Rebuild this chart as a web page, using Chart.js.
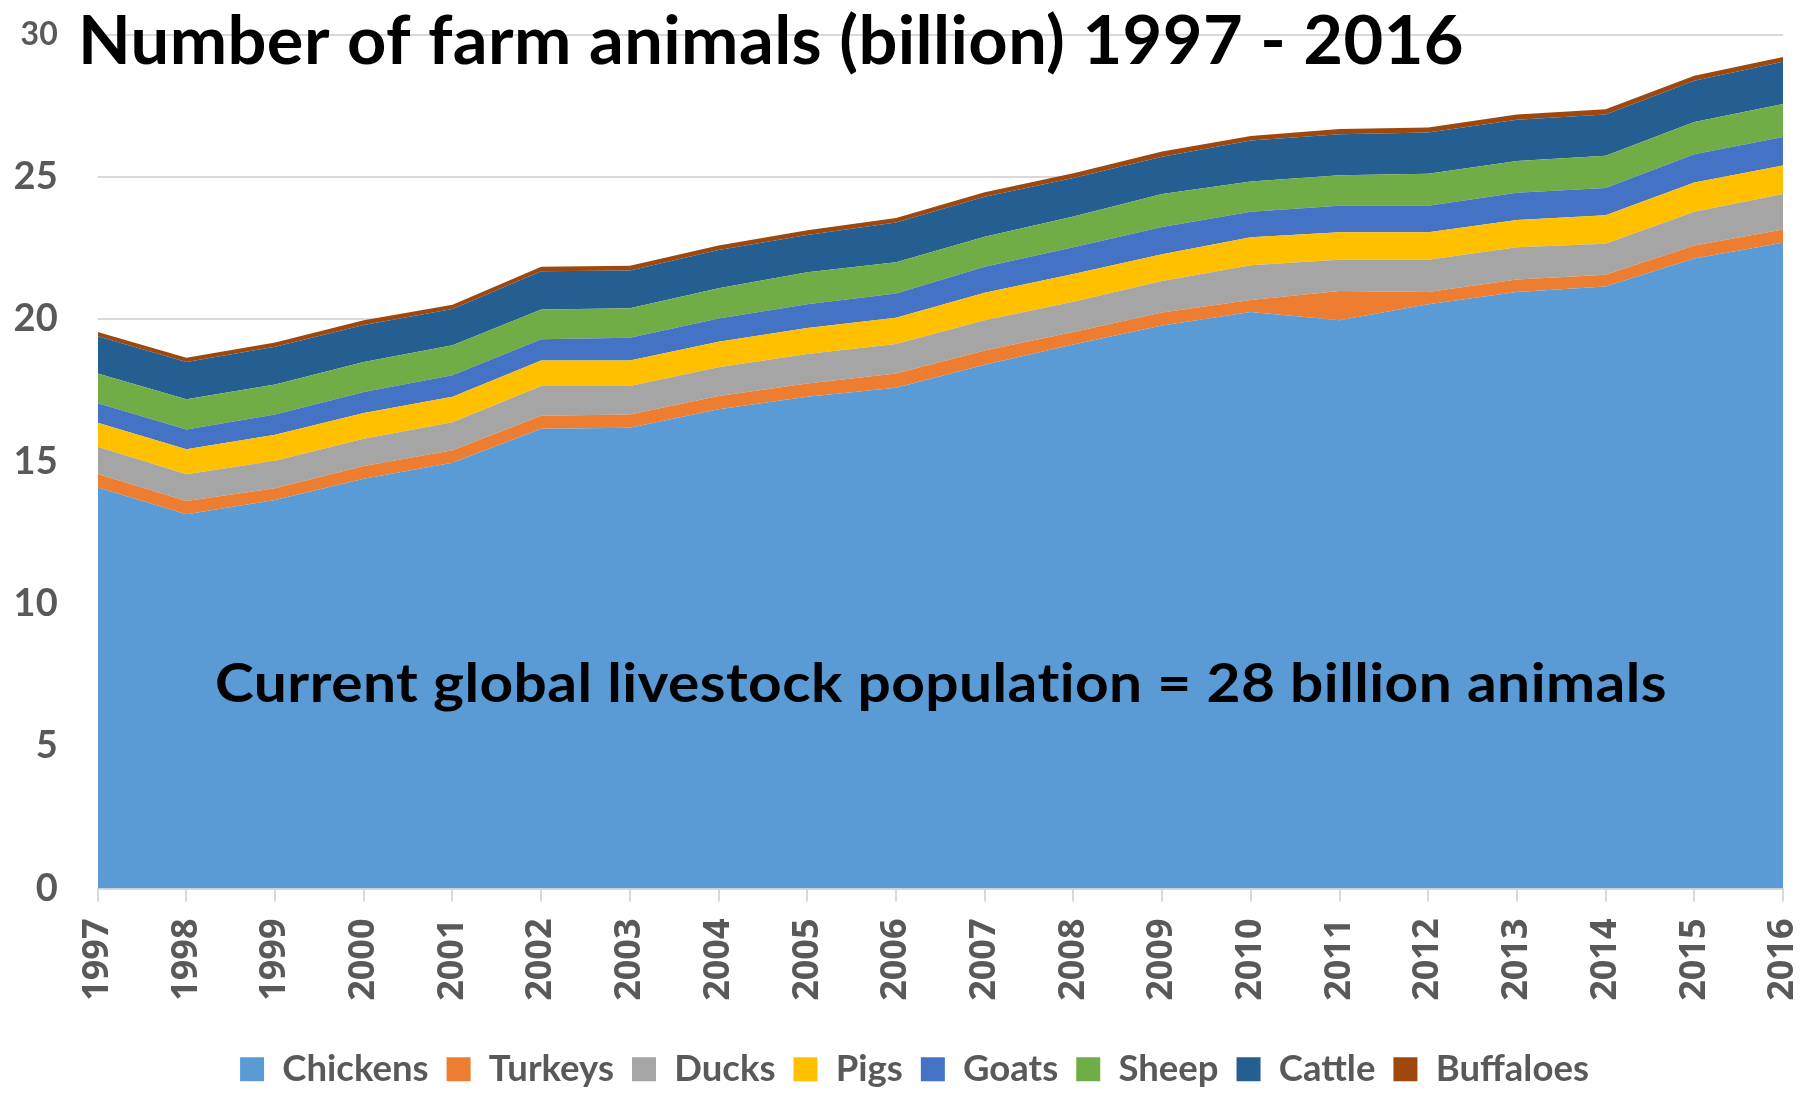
<!DOCTYPE html>
<html>
<head>
<meta charset="utf-8">
<script src="https://cdn.jsdelivr.net/npm/chart.js@4.4.0/dist/chart.umd.min.js"></script>
<style>
  html, body { margin: 0; padding: 0; background: #fff; }
  #wrap { width: 1800px; height: 1099px; }
</style>
</head>
<body>
<div id="wrap"><canvas id="chart" width="1800" height="1099"></canvas></div>
<script>
// billions of animals
const years = ["1997", "1998", "1999", "2000", "2001", "2002", "2003", "2004", "2005", "2006",
               "2007", "2008", "2009", "2010", "2011", "2012", "2013", "2014", "2015", "2016"];
const chickens  = [14.09, 13.15, 13.65, 14.40, 14.96, 16.15, 16.19, 16.84, 17.28, 17.59,
                   18.40, 19.11, 19.78, 20.25, 19.96, 20.53, 20.96, 21.15, 22.13, 22.69];
const turkeys   = [0.47, 0.46, 0.41, 0.44, 0.44, 0.46, 0.46, 0.46, 0.46, 0.50,
                   0.50, 0.44, 0.46, 0.43, 1.03, 0.43, 0.44, 0.41, 0.46, 0.46];
const ducks     = [0.96, 0.94, 0.97, 0.96, 0.98, 1.04, 1.00, 1.01, 1.04, 1.04,
                   1.06, 1.06, 1.10, 1.22, 1.10, 1.13, 1.13, 1.09, 1.19, 1.25];
const pigs      = [0.84, 0.88, 0.91, 0.91, 0.90, 0.90, 0.90, 0.90, 0.91, 0.92,
                   0.97, 0.98, 0.94, 0.98, 0.97, 0.97, 0.96, 1.00, 1.02, 1.00];
const goats     = [0.69, 0.70, 0.71, 0.73, 0.75, 0.75, 0.80, 0.82, 0.84, 0.85,
                   0.91, 0.94, 0.96, 0.90, 0.93, 0.93, 0.95, 0.96, 1.00, 1.00];
const sheep     = [1.04, 1.06, 1.06, 1.06, 1.06, 1.04, 1.04, 1.06, 1.12, 1.10,
                   1.06, 1.08, 1.16, 1.06, 1.07, 1.12, 1.12, 1.13, 1.13, 1.16];
const cattle    = [1.31, 1.31, 1.32, 1.30, 1.27, 1.35, 1.32, 1.34, 1.31, 1.40,
                   1.40, 1.35, 1.31, 1.44, 1.44, 1.45, 1.45, 1.45, 1.45, 1.49];
const buffaloes = [0.15, 0.15, 0.15, 0.16, 0.15, 0.15, 0.17, 0.16, 0.17, 0.16,
                   0.16, 0.17, 0.18, 0.16, 0.18, 0.18, 0.18, 0.19, 0.17, 0.16];

const seriesNames  = ["Chickens", "Turkeys", "Ducks", "Pigs", "Goats", "Sheep", "Cattle", "Buffaloes"];
const seriesValues = [chickens, turkeys, ducks, pigs, goats, sheep, cattle, buffaloes];
const seriesColors = ["#5B9BD5", "#ED7D31", "#A5A5A5", "#FFC000", "#4472C4", "#70AD47", "#255E91", "#9E480E"];

const titleText = "Number of farm animals (billion) 1997 - 2016";
const noteText = "Current global livestock population = 28 billion animals";

// draw text squeezed/stretched to a given width (Calibri is narrower than what we have)
function fitText(ctx, text, x, baseline, width, font) {
  ctx.save();
  ctx.font = font;
  ctx.fillStyle = "#000";
  ctx.textBaseline = "alphabetic";
  ctx.textAlign = "left";
  ctx.letterSpacing = "0.4px"; // also stops Lato's "ti" ligature
  const w = ctx.measureText(text).width;
  ctx.translate(x, baseline);
  ctx.scale(width / w, 1);
  ctx.fillText(text, 0, 0);
  ctx.restore();
}

const overlayText = {
  id: "overlayText",
  // legend sits a bit right of the canvas centre in the original
  afterLayout(chart) {
    if (chart.legend) chart.legend.left = 46;
  },
  afterDraw(chart) {
    const ctx = chart.ctx;
    fitText(ctx, titleText, 78, 64, 1386, "bold 67px Lato");
    fitText(ctx, noteText, 215, 702, 1452, "bold 53px Lato");
  }
};

const datasets = seriesNames.map((name, i) => ({
  label: name,
  data: seriesValues[i],
  backgroundColor: seriesColors[i],
  borderColor: "transparent",
  borderWidth: 0,
  fill: i === 0 ? "origin" : "-1",
  pointRadius: 0,
  tension: 0,
}));

const gray = "#595959";

function draw() {
  new Chart(document.getElementById("chart"), {
    type: "line",
    data: { labels: years, datasets },
    plugins: [overlayText],
    options: {
      responsive: false,
      animation: false,
      layout: { padding: { top: 34.6, right: 17, bottom: 1.5, left: 0 } },
      plugins: {
        legend: {
          position: "bottom",
          labels: {
            boxWidth: 24,
            boxHeight: 24,
            padding: 18,
            color: gray,
            font: { family: "Lato", weight: "bold", size: 36.5 },
          },
        },
        tooltip: { enabled: false },
      },
      scales: {
        x: {
          offset: false,
          grid: { drawOnChartArea: false, color: "#d9d9d9", lineWidth: 2, tickLength: 13 },
          border: { color: "#d9d9d9", width: 2 },
          ticks: {
            minRotation: 90,
            maxRotation: 90,
            autoSkip: false,
            padding: 17,
            color: gray,
            font: { family: "Open Sans", weight: "bold", size: 36 },
          },
          afterFit: (s) => { s.height = 144.5; s.paddingLeft = 0; s.paddingRight = 0; },
        },
        y: {
          stacked: true,
          min: 0,
          max: 30,
          ticks: {
            stepSize: 5,
            padding: 40,
            color: gray,
            font: (c) => ({ family: "Lato", weight: "bold", size: c.tick && c.tick.value === 30 ? 32 : 38 }),
          },
          grid: { color: "#d9d9d9", lineWidth: 2, drawTicks: false },
          border: { display: false },
          afterFit: (s) => { s.width = 97.7; s.paddingTop = 0; s.paddingBottom = 0; },
        },
      },
    },
  });
}

Promise.all([
  document.fonts.load("bold 40px Lato"),
  document.fonts.load("bold 36px 'Open Sans'"),
]).then(draw, draw);
</script>
</body>
</html>
